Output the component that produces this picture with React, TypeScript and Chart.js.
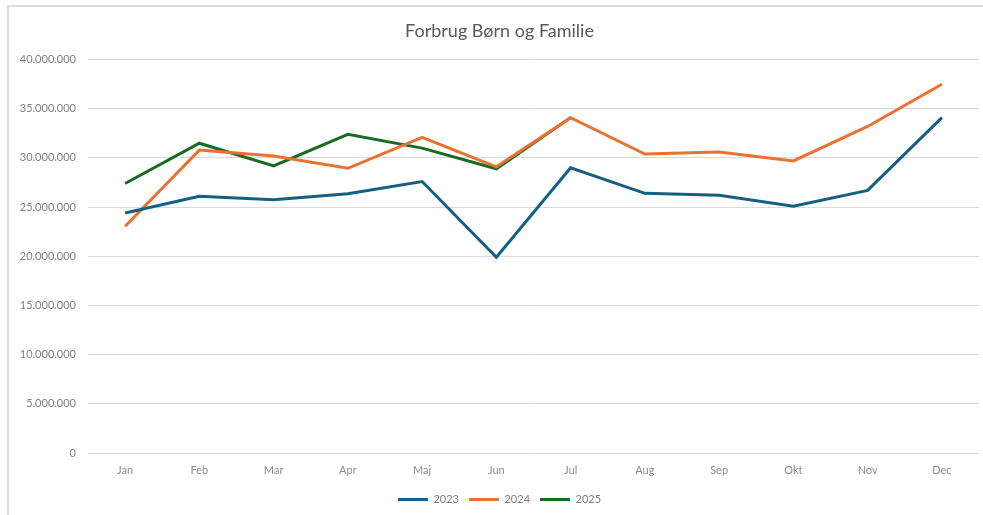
import React, { useEffect, useRef } from "react";
import { Chart, registerables } from "chart.js";

Chart.register(...registerables);

const chartTitle = "Forbrug Børn og Familie";
const months = ["Jan", "Feb", "Mar", "Apr", "Maj", "Jun", "Jul", "Aug", "Sep", "Okt", "Nov", "Dec"];
const seriesNames = ["2023", "2024", "2025"];
const values2023 = [24400000, 26100000, 25750000, 26350000, 27600000, 19900000, 29000000, 26400000, 26200000, 25100000, 26700000, 34100000];
const values2024 = [23050000, 30800000, 30200000, 28950000, 32100000, 29100000, 34100000, 30400000, 30600000, 29700000, 33200000, 37500000];
const values2025 = [27400000, 31500000, 29200000, 32400000, 31000000, 28900000, 34100000, null, null, null, null, null];
const seriesColors = ["#156082", "#E97132", "#196B24"];
const yMax = 40000000;
const yStep = 5000000;

function formatDa(v: number): string {
  const s = Math.round(v).toString();
  return s.replace(/\B(?=(\d{3})+(?!\d))/g, ".");
}

export default function App() {
  const ref = useRef<HTMLCanvasElement | null>(null);

  useEffect(() => {
    if (!ref.current) return;
    const all = [values2023, values2024, values2025];
    const chart = new Chart(ref.current, {
      type: "line",
      data: {
        labels: months,
        datasets: all.map((vals, i) => ({
          label: seriesNames[i],
          data: vals,
          borderColor: seriesColors[i],
          backgroundColor: seriesColors[i],
          borderWidth: 3,
          pointRadius: 0,
          pointHoverRadius: 0,
          tension: 0,
          spanGaps: false,
        })),
      },
      options: {
        responsive: false,
        animation: false,
        layout: { padding: { left: 20, right: 4, top: 0, bottom: 0 } },
        plugins: {
          title: {
            display: true,
            text: chartTitle,
            color: "#595959",
            font: { family: "Lato", size: 18, weight: "normal" },
            padding: { top: 20, bottom: 18 },
          },
          legend: {
            display: true,
            position: "bottom",
            labels: {
              usePointStyle: true,
              pointStyle: "line",
              pointStyleWidth: 30,
              boxHeight: 10,
              padding: 10,
              color: "#7f7f7f",
              font: { family: "Lato", size: 11 },
            },
          },
          tooltip: { enabled: false },
        },
        scales: {
          x: {
            offset: true,
            afterFit: (scale: any) => {
              scale.height = 31;
            },
            grid: { display: false, drawTicks: false, offset: true },
            border: { display: false },
            ticks: {
              color: "#8c8c8c",
              font: { family: "Lato", size: 11 },
              padding: 11,
              maxRotation: 0,
            },
          },
          y: {
            min: 0,
            max: yMax,
            afterFit: (scale: any) => {
              scale.width = 68;
            },
            grid: { color: "#d9d9d9", lineWidth: 1, drawTicks: false },
            border: { display: false },
            ticks: {
              stepSize: yStep,
              color: "#7f7f7f",
              font: { family: "Lato", size: 11 },
              padding: 12,
              callback: (v: any) => formatDa(Number(v)),
            },
          },
        },
      },
    });
    return () => chart.destroy();
  }, []);

  return (
    <div style={{ position: "fixed", left: 0, top: 0, width: 983, height: 515, background: "#fff", overflow: "hidden" }}>
      <div
        style={{
          position: "absolute",
          left: 7,
          top: 5,
          width: 1000,
          height: 530,
          borderTop: "2px solid #dcdcdc",
          borderLeft: "2px solid #dcdcdc",
          boxSizing: "border-box",
        }}
      />
      <canvas ref={ref} width={983} height={515} style={{ position: "absolute", left: 0, top: 0 }} />
    </div>
  );
}
